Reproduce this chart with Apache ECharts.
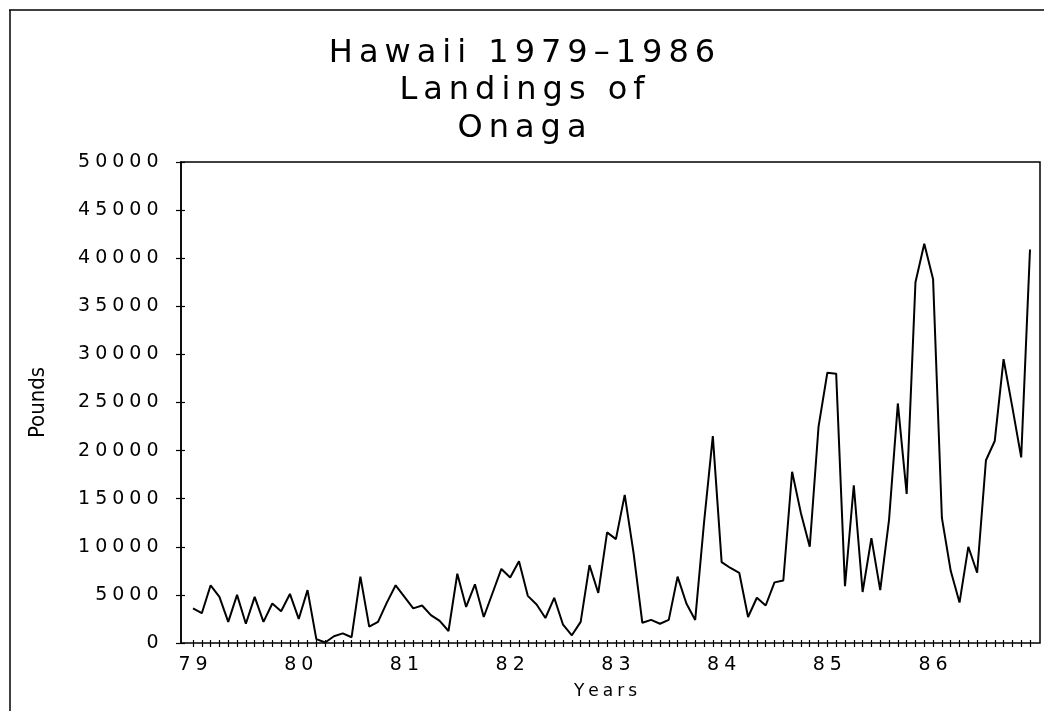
<!DOCTYPE html>
<html>
<head>
<meta charset="utf-8">
<script src="https://cdn.jsdelivr.net/npm/echarts@6/dist/echarts.min.js"></script>
<style>
html,body{margin:0;padding:0;background:#fff;}
#chart{width:1044px;height:711px;}
</style>
</head>
<body>
<div id="chart"></div>
<script>
// ---- text ----
const titleLines = ['Hawaii 1979–1986', 'Landings of', 'Onaga'];
const yAxisTitle = 'Pounds';
const xAxisTitle = 'Years';

// ---- categories ----
const years = ['79', '80', '81', '82', '83', '84', '85', '86'];
const months = ['01', '02', '03', '04', '05', '06', '07', '08', '09', '10', '11', '12'];

// ---- monthly landings (pounds) ----
const pounds1979 = [3600, 3100, 6000, 4800, 2200, 5000, 2000, 4800, 2200, 4100, 3300, 5100];
const pounds1980 = [2500, 5500, 400, 50, 700, 1000, 600, 6900, 1700, 2200, 4200, 6000];
const pounds1981 = [4800, 3600, 3900, 2900, 2300, 1250, 7200, 3750, 6100, 2700, 5200, 7700];
const pounds1982 = [6800, 8500, 4900, 4000, 2600, 4700, 1900, 800, 2200, 8100, 5200, 11500];
const pounds1983 = [10800, 15400, 9400, 2100, 2400, 2000, 2400, 6900, 4100, 2400, 12500, 21500];
const pounds1984 = [8400, 7800, 7300, 2700, 4700, 3900, 6300, 6500, 17800, 13500, 10000, 22500];
const pounds1985 = [28100, 28000, 5900, 16400, 5300, 10900, 5500, 12800, 24900, 15500, 37500, 41500];
const pounds1986 = [37800, 13000, 7500, 4200, 10000, 7300, 19000, 21000, 29500, 24500, 19300, 40900];

// ---- value axis ----
const yMin = 0;
const yMax = 50000;
const yStep = 5000;

// ---- build ----
const categories = years.flatMap(y => months.map(m => y + '-' + m));
const pounds = [].concat(pounds1979, pounds1980, pounds1981, pounds1982,
                         pounds1983, pounds1984, pounds1985, pounds1986);

const FONT = '"DejaVu Sans", "Liberation Sans", sans-serif';
// wrap every character in its own rich fragment so it gets the wide spacing of the original
function spaced(str, style) {
  return String(str).split('').map(c => '{' + style + '|' + c + '}').join('');
}
const richTitle = { t: { fontFamily: FONT, fontSize: 32, color: '#000', padding: [0, 3, 0, 3] } };
const richNum = { n: { fontFamily: FONT, fontSize: 19, color: '#000', padding: [0, 2.5, 0, 2.5] } };
const richName = { s: { fontFamily: FONT, fontSize: 17, color: '#000', padding: [0, 2, 0, 2] } };

const titleTops = [38, 75, 113];

const chart = echarts.init(document.getElementById('chart'), null, { renderer: 'canvas' });
chart.setOption({
  animation: false,
  backgroundColor: '#fff',
  title: titleLines.map((t, i) => ({
    text: spaced(t, 't'),
    left: 'center',
    top: titleTops[i],
    padding: 0,
    textStyle: { rich: richTitle, fontFamily: FONT, fontSize: 32, fontWeight: 'normal', color: '#000' }
  })),
  graphic: [
    { type: 'line', shape: { x1: 9, y1: 10, x2: 1044, y2: 10 }, style: { stroke: '#000', lineWidth: 1.5 } },
    { type: 'line', shape: { x1: 10, y1: 10, x2: 10, y2: 711 }, style: { stroke: '#000', lineWidth: 1.5 } }
  ],
  grid: [
    { left: 181, right: 4, top: 162, bottom: 68, show: true, borderColor: '#000', borderWidth: 1.5, backgroundColor: 'transparent', containLabel: false },
    { left: 193, right: 14, top: 162, bottom: 68, containLabel: false }
  ],
  xAxis: [
    { gridIndex: 0, type: 'value', min: 0, max: 1, show: false },
    {
      gridIndex: 1, type: 'category', data: categories, boundaryGap: false, position: 'bottom',
      axisLine: { show: false },
      axisTick: { show: true, interval: 0, length: 4, lineStyle: { color: '#000', width: 1.2 } },
      axisLabel: {
        interval: (idx) => idx % 12 === 0,
        formatter: (v) => spaced(v.slice(0, 2), 'n'),
        rich: richNum, margin: 13
      },
      splitLine: { show: false },
      name: spaced(xAxisTitle, 's'),
      nameLocation: 'middle',
      nameGap: 40,
      nameTextStyle: { rich: richName, padding: [0, 12, 0, 0] }
    },
    {
      gridIndex: 1, type: 'category', data: categories, boundaryGap: false, position: 'bottom',
      axisLine: { show: false },
      axisTick: { show: true, inside: true, interval: 0, length: 3, lineStyle: { color: '#000', width: 1.2 } },
      axisLabel: { show: false },
      splitLine: { show: false }
    }
  ],
  yAxis: [
    {
      gridIndex: 0, type: 'value', min: yMin, max: yMax, interval: yStep, position: 'left',
      axisLine: { show: true, lineStyle: { color: '#000', width: 1.5 } },
      axisTick: { show: true, length: 5, lineStyle: { color: '#000', width: 1.2 } },
      axisLabel: { formatter: (v) => spaced(v, 'n'), rich: richNum, margin: 20 },
      splitLine: { show: false },
      name: yAxisTitle,
      nameLocation: 'middle',
      nameGap: 132,
      nameRotate: 90,
      nameTextStyle: { fontFamily: '"Liberation Sans Narrow", "DejaVu Sans Condensed", "Liberation Sans", sans-serif', fontSize: 22, color: '#000' }
    },
    {
      gridIndex: 0, type: 'value', min: yMin, max: yMax, interval: yStep, position: 'left',
      axisLine: { show: false },
      axisTick: { show: true, inside: true, length: 4, lineStyle: { color: '#000', width: 1.2 } },
      axisLabel: { show: false },
      splitLine: { show: false }
    },
    { gridIndex: 1, type: 'value', min: yMin, max: yMax, show: false }
  ],
  series: [{
    type: 'line',
    xAxisIndex: 1,
    yAxisIndex: 2,
    data: pounds,
    symbol: 'none',
    lineStyle: { color: '#000', width: 2 },
    z: 5
  }]
});
</script>
</body>
</html>
